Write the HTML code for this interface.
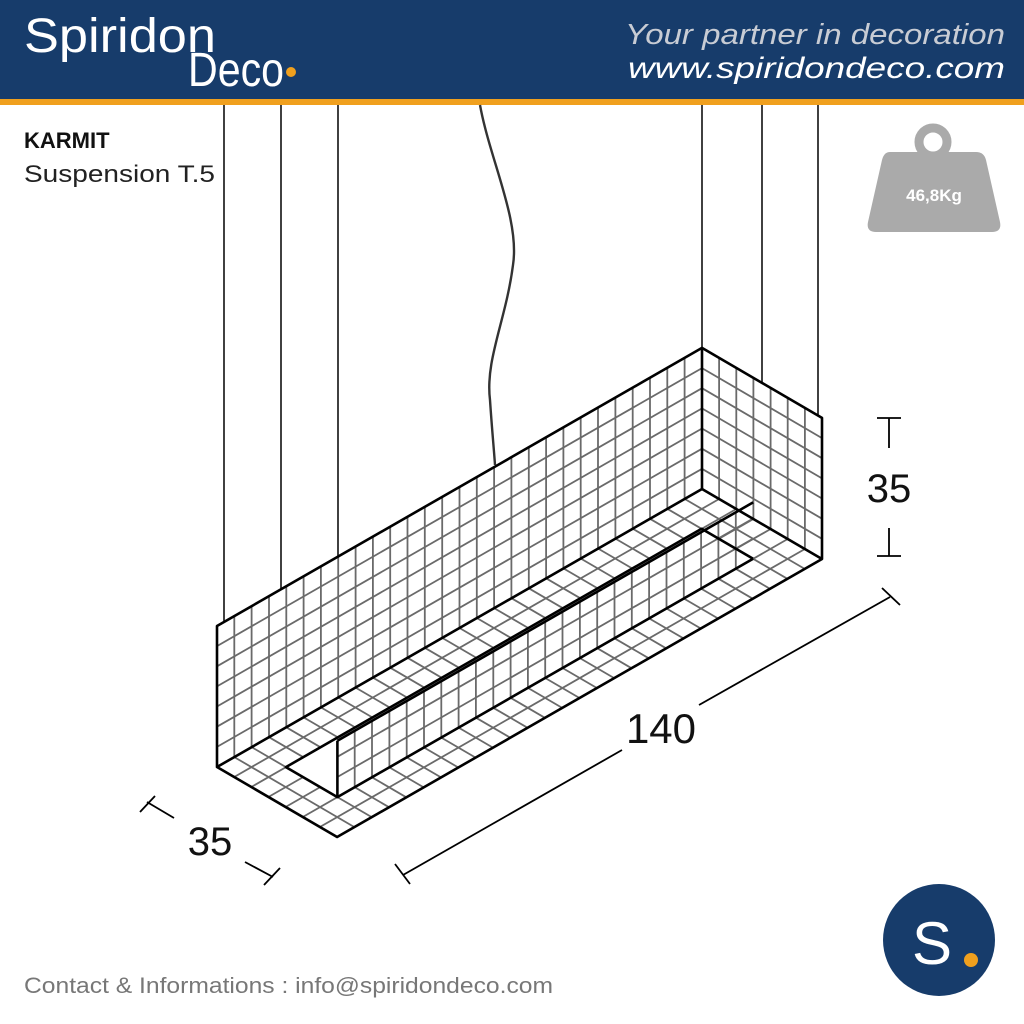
<!DOCTYPE html>
<html><head><meta charset="utf-8"><style>
html,body{margin:0;padding:0;background:#fff;}
svg{display:block}
</style></head><body>
<svg id="s" width="1024" height="1024" viewBox="0 0 1024 1024" xmlns="http://www.w3.org/2000/svg" font-family="Liberation Sans, sans-serif">
<rect x="0" y="0" width="1024" height="99" fill="#173c6b"/>
<rect x="0" y="99" width="1024" height="6" fill="#f0a01e"/>
<text x="24" y="52" font-size="48" fill="#fff" font-weight="300" textLength="192" lengthAdjust="spacingAndGlyphs">Spiridon</text>
<text x="188" y="86" font-size="48" fill="#fff" font-weight="300" textLength="96" lengthAdjust="spacingAndGlyphs">Deco</text>
<circle cx="291" cy="72" r="5" fill="#f0a01e"/>
<text x="1005" y="44" font-size="29" fill="#c8ccd4" font-style="italic" text-anchor="end" textLength="380" lengthAdjust="spacingAndGlyphs">Your partner in decoration</text>
<text x="1005" y="78" font-size="30" fill="#fff" font-style="italic" text-anchor="end" textLength="377" lengthAdjust="spacingAndGlyphs">www.spiridondeco.com</text>
<text x="24" y="148" font-size="22" font-weight="bold" fill="#111">KARMIT</text>
<text x="24" y="182" font-size="24" fill="#222" textLength="191" lengthAdjust="spacingAndGlyphs">Suspension T.5</text>
<circle cx="933" cy="142" r="14" fill="none" stroke="#aaa" stroke-width="9"/>
<path d="M890 152 H976 Q984 152 986 160 L1000 222 Q1002 232 992 232 H876 Q866 232 868 222 L882 160 Q884 152 890 152 Z" fill="#aaa"/>
<text x="934" y="201" font-size="17" font-weight="bold" fill="#fff" text-anchor="middle">46,8Kg</text>
<g stroke="#111" stroke-width="1.6">
<line x1="224" y1="105" x2="224" y2="622"/>
<line x1="281" y1="105" x2="281" y2="590"/>
<line x1="338" y1="105" x2="338" y2="557"/>
<line x1="702" y1="105" x2="702" y2="347"/>
<line x1="762" y1="105" x2="762" y2="382"/>
<line x1="818" y1="105" x2="818" y2="415"/>
</g>
<path d="M480 105 C490 160 520 220 513 265 C506 320 485 360 490 400 C492 430 494 450 495 465" fill="none" stroke="#333" stroke-width="2.4"/>
<g id="grid" stroke="#6a6a6a" stroke-width="1.8" fill="none"></g>
<g id="out" stroke="#000" stroke-width="2.6" fill="none" stroke-linejoin="round"></g>
<g stroke="#000" stroke-width="1.8">
<line x1="877" y1="418" x2="901" y2="418"/><line x1="889" y1="418" x2="889" y2="448"/>
<line x1="889" y1="528" x2="889" y2="556"/><line x1="877" y1="556" x2="901" y2="556"/>
<line x1="403" y1="875" x2="622" y2="750"/><line x1="699" y1="705" x2="890" y2="597"/>
<line x1="395" y1="864" x2="410" y2="884"/><line x1="882" y1="588" x2="900" y2="605"/>
<line x1="147" y1="802" x2="174" y2="818"/><line x1="245" y1="862" x2="273" y2="877"/>
<line x1="140" y1="812" x2="155" y2="796"/><line x1="264" y1="885" x2="280" y2="868"/>
</g>
<text x="889" y="502" font-size="40" text-anchor="middle" fill="#111">35</text>
<text x="661" y="743" font-size="42" text-anchor="middle" fill="#111">140</text>
<text x="210" y="855" font-size="40" text-anchor="middle" fill="#111">35</text>
<circle cx="939" cy="940" r="56" fill="#173c6b"/>
<text x="932" y="964" font-size="60" fill="#fff" text-anchor="middle">S</text>
<circle cx="971" cy="960" r="7" fill="#f0a01e"/>
<text x="24" y="993" font-size="22" fill="#777" textLength="529" lengthAdjust="spacingAndGlyphs">Contact &amp; Informations : info@spiridondeco.com</text>
</svg>
<script>
(function(){
var NS="http://www.w3.org/2000/svg";
function P(a,b,h){return [217+3.464*a+3.43*b, 767-1.986*a+2*b-4.03*h];}
function L(g,p,q){var l=document.createElementNS(NS,"line");l.setAttribute("x1",p[0].toFixed(1));l.setAttribute("y1",p[1].toFixed(1));l.setAttribute("x2",q[0].toFixed(1));l.setAttribute("y2",q[1].toFixed(1));g.appendChild(l);}
var g=document.getElementById("grid"),o=document.getElementById("out");
var i;
for(i=5;i<140;i+=5)L(g,P(i,0,0),P(i,0,35));
for(i=5;i<35;i+=5)L(g,P(0,0,i),P(140,0,i));
for(i=5;i<35;i+=5)L(g,P(140,i,0),P(140,i,35));
for(i=5;i<35;i+=5)L(g,P(140,0,i),P(140,35,i));
for(i=5;i<140;i+=5){ if(i>10&&i<130){L(g,P(i,0,0),P(i,10,0));L(g,P(i,25,0),P(i,35,0));} else L(g,P(i,0,0),P(i,35,0)); }
for(i=5;i<35;i+=5){ if(i>10&&i<25){L(g,P(0,i,0),P(10,i,0));L(g,P(130,i,0),P(140,i,0));} else L(g,P(0,i,0),P(140,i,0)); }
for(i=15;i<130;i+=5)L(g,P(i,25,0),P(i,25,14));
for(i=5;i<14;i+=5)L(g,P(10,25,i),P(130,25,i));
function poly(pts){var p=document.createElementNS(NS,"polyline");p.setAttribute("points",pts.map(function(x){return x[0].toFixed(1)+","+x[1].toFixed(1)}).join(" "));o.appendChild(p);}
poly([P(0,0,0),P(0,0,35),P(140,0,35),P(140,35,35),P(140,35,0),P(0,35,0),P(0,0,0),P(140,0,0),P(140,35,0)]);
L(o,P(140,0,35),P(140,0,0));
poly([P(130,25,0),P(130,10,0),P(10,10,0),P(10,25,0),P(130,25,0)]);
L(o,P(10,25,0),P(10,25,14));L(o,P(10,25,14),P(130,25,14));
})();
</script>
</body></html>
